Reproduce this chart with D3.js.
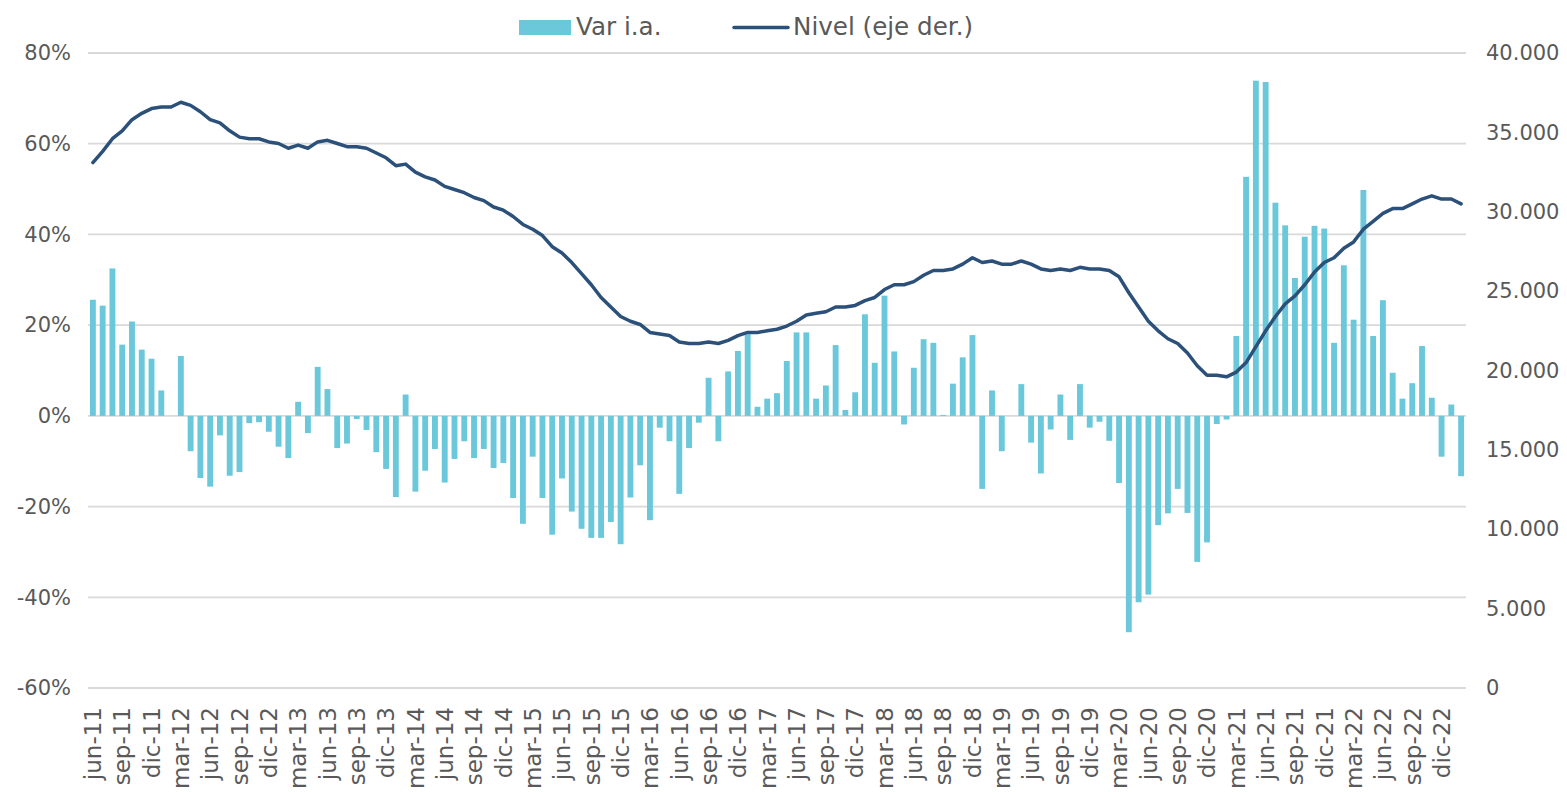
<!DOCTYPE html>
<html>
<head>
<meta charset="utf-8">
<script src="https://cdn.jsdelivr.net/npm/d3@7"></script>
<style>
  html, body { margin: 0; padding: 0; background: #fff; }
  svg { display: block; font-family: "DejaVu Sans", Verdana, sans-serif; }
</style>
</head>
<body>
<svg id="chart" width="1567" height="792"></svg>
<script>
// ---- data ----
const monthNames = ["ene","feb","mar","abr","may","jun","jul","ago","sep","oct","nov","dic"];
const startYear = 2011, startMonth = 5; // jun-11
const nMonths = 141;                    // jun-11 .. feb-23

// Var i.a. (%) , left axis
const varIA = [
  25.6, 24.3, 32.5, 15.7, 20.8, 14.6, 12.6, 5.6, 0, 13.2,
  -7.8, -13.7, -15.6, -4.3, -13.2, -12.4, -1.6, -1.4, -3.5, -6.8,
  -9.3, 3.1, -3.8, 10.8, 5.9, -7.1, -6.1, -0.7, -3.1, -8.0,
  -11.7, -17.9, 4.7, -16.7, -12.1, -7.3, -14.7, -9.5, -5.6, -9.3,
  -7.3, -11.5, -10.4, -18.1, -23.8, -9.0, -18.1, -26.2, -13.8, -21.1,
  -24.9, -26.9, -26.9, -23.4, -28.3, -18.0, -10.9, -23.0, -2.6, -5.6,
  -17.2, -7.1, -1.5, 8.4, -5.6, 9.8, 14.3, 18.0, 2.0, 3.8,
  5.0, 12.1, 18.4, 18.4, 3.8, 6.7, 15.6, 1.3, 5.2, 22.4,
  11.7, 26.5, 14.2, -1.9, 10.6, 16.9, 16.1, 0.2, 7.1, 12.9,
  17.8, -16.1, 5.6, -7.8, 0, 7.0, -5.9, -12.7, -3.0, 4.7,
  -5.3, 7.0, -2.6, -1.3, -5.5, -14.8, -47.7, -41.1, -39.4, -24.1,
  -21.5, -16.1, -21.4, -32.2, -27.9, -1.8, -0.8, 17.6, 52.7, 73.9,
  73.6, 47.0, 42.0, 30.4, 39.5, 41.9, 41.3, 16.1, 33.2, 21.2,
  49.8, 17.6, 25.5, 9.5, 3.8, 7.2, 15.4, 4.0, -9.0, 2.5,
  -13.3
];

// Nivel (eje der.), thousands
const nivelK = [
  33.1, 33.8, 34.6, 35.1, 35.8, 36.2, 36.5, 36.6, 36.6, 36.9,
  36.7, 36.3, 35.8, 35.6, 35.1, 34.7, 34.6, 34.6, 34.4, 34.3,
  34.0, 34.2, 34.0, 34.4, 34.5, 34.3, 34.1, 34.1, 34.0, 33.7,
  33.4, 32.9, 33.0, 32.5, 32.2, 32.0, 31.6, 31.4, 31.2, 30.9,
  30.7, 30.3, 30.1, 29.7, 29.2, 28.9, 28.5, 27.8, 27.4, 26.8,
  26.1, 25.4, 24.6, 24.0, 23.4, 23.1, 22.9, 22.4, 22.3, 22.2,
  21.8, 21.7, 21.7, 21.8, 21.7, 21.9, 22.2, 22.4, 22.4, 22.5,
  22.6, 22.8, 23.1, 23.5, 23.6, 23.7, 24.0, 24.0, 24.1, 24.4,
  24.6, 25.1, 25.4, 25.4, 25.6, 26.0, 26.3, 26.3, 26.4, 26.7,
  27.1, 26.8, 26.9, 26.7, 26.7, 26.9, 26.7, 26.4, 26.3, 26.4,
  26.3, 26.5, 26.4, 26.4, 26.3, 25.9, 24.9, 24.0, 23.1, 22.5,
  22.0, 21.7, 21.1, 20.3, 19.7, 19.7, 19.6, 19.9, 20.5, 21.5,
  22.5, 23.4, 24.2, 24.7, 25.4, 26.2, 26.8, 27.1, 27.7, 28.1,
  28.9, 29.4, 29.9, 30.2, 30.2, 30.5, 30.8, 31.0, 30.8, 30.8,
  30.5
];

const leftTicks = [-60, -40, -20, 0, 20, 40, 60, 80];
const rightTicks = [0, 5000, 10000, 15000, 20000, 25000, 30000, 35000, 40000];
const legendLabels = ["Var i.a.", "Nivel (eje der.)"];

const categories = d3.range(nMonths).map(i => {
  const m = (startMonth + i) % 12;
  const y = startYear + Math.floor((startMonth + i) / 12);
  return monthNames[m] + "-" + String(y % 100).padStart(2, "0");
});
const xTickLabels = categories.filter((c, i) => i % 3 === 0);

// ---- layout ----
const svg = d3.select("#chart");
const plot = { left: 88, right: 1466, top: 53, bottom: 688 };
const barColor = "#6AC8DA";
const lineColor = "#2B5079";
const textColor = "#595959";

const x = d3.scaleBand().domain(categories).range([plot.left, plot.right])
  .paddingInner(0.4).paddingOuter(0.2);
const yL = d3.scaleLinear().domain([-60, 80]).range([plot.bottom, plot.top]);
const yR = d3.scaleLinear().domain([0, 40000]).range([plot.bottom, plot.top]);

// gridlines
svg.append("g").selectAll("line").data(leftTicks).join("line")
  .attr("x1", plot.left).attr("x2", plot.right)
  .attr("y1", d => yL(d)).attr("y2", d => yL(d))
  .attr("stroke", "#D9D9D9").attr("stroke-width", 1.8);

// left axis
const axL = svg.append("g").attr("transform", `translate(${plot.left - 17},0)`)
  .call(d3.axisLeft(yL).tickValues(leftTicks).tickFormat(d => d + "%").tickSize(0).tickPadding(0));
axL.select(".domain").remove();
axL.selectAll("text").attr("fill", textColor).style("font-size", "21px")
  .style("font-family", '"DejaVu Sans", Verdana, sans-serif');

// right axis
const fmtR = d => d === 0 ? "0" : d3.format(",")(d).replace(/,/g, ".");
const axR = svg.append("g").attr("transform", `translate(${plot.right + 20},0)`)
  .call(d3.axisRight(yR).tickValues(rightTicks).tickFormat(fmtR).tickSize(0).tickPadding(0));
axR.select(".domain").remove();
axR.selectAll("text").attr("fill", textColor).style("font-size", "21px")
  .style("font-family", '"DejaVu Sans", Verdana, sans-serif');

// bars
svg.append("g").selectAll("rect").data(varIA).join("rect")
  .attr("x", (d, i) => x(categories[i]))
  .attr("width", x.bandwidth())
  .attr("y", d => yL(Math.max(0, d)))
  .attr("height", d => Math.abs(yL(d) - yL(0)))
  .attr("fill", barColor);

// line
const line = d3.line()
  .x((d, i) => x(categories[i]) + x.bandwidth() / 2)
  .y(d => yR(d * 1000));
svg.append("path").datum(nivelK)
  .attr("d", line).attr("fill", "none")
  .attr("stroke", lineColor).attr("stroke-width", 3.5)
  .attr("stroke-linejoin", "round").attr("stroke-linecap", "round");

// x axis labels
const axX = svg.append("g").attr("transform", `translate(0,${plot.bottom})`)
  .call(d3.axisBottom(x).tickValues(xTickLabels).tickSize(0).tickPadding(0));
axX.select(".domain").remove();
axX.selectAll("text")
  .attr("fill", textColor).style("font-size", "23px")
  .style("font-family", '"DejaVu Sans", Verdana, sans-serif')
  .attr("text-anchor", "end")
  .attr("transform", "rotate(-90)")
  .attr("x", -19).attr("y", 0).attr("dy", "0.36em");

// legend
const lg = svg.append("g");
lg.append("rect").attr("x", 519).attr("y", 20).attr("width", 52).attr("height", 15).attr("fill", barColor);
lg.append("text").attr("x", 576).attr("y", 35).text(legendLabels[0])
  .attr("fill", textColor).style("font-size", "24.6px");
lg.append("line").attr("x1", 734).attr("x2", 788).attr("y1", 27.5).attr("y2", 27.5)
  .attr("stroke", lineColor).attr("stroke-width", 3.5).attr("stroke-linecap", "round");
lg.append("text").attr("x", 793).attr("y", 35).text(legendLabels[1])
  .attr("fill", textColor).style("font-size", "24.6px");
</script>
</body>
</html>
